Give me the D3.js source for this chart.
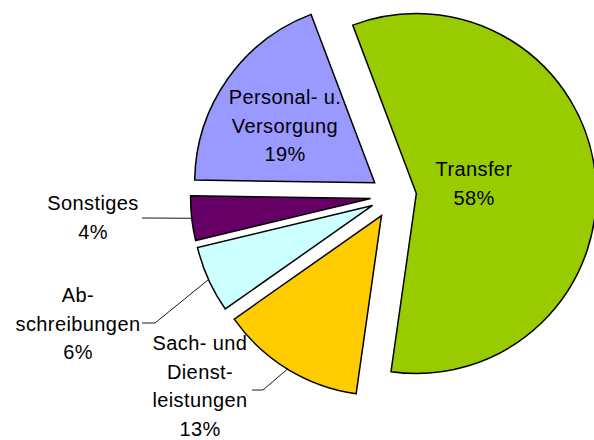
<!DOCTYPE html>
<html><head><meta charset="utf-8">
<script src="https://cdn.jsdelivr.net/npm/d3@7"></script>
<style>body{margin:0;background:#fff}</style>
</head><body><svg id="chart" width="594" height="440"></svg>
<script>
// ---- data ----
const categories = ["Transfer", "Sach- und Dienstleistungen", "Abschreibungen", "Sonstiges", "Personal- u. Versorgung"];
const values = [58, 13, 6, 4, 19];
const labelLines = [
  ["Transfer", "58%"],
  ["Sach- und", "Dienst-", "leistungen", "13%"],
  ["Ab-", "schreibungen", "6%"],
  ["Sonstiges", "4%"],
  ["Personal- u.", "Versorgung", "19%"]
];
// ---- styles / layout ----
const colors = ["#99CC00", "#FFCC00", "#CCFFFF", "#660066", "#9999FF"];
const labelLayout = [
  {x: 474, y: 176, elbow: null, leader: false},
  {x: 200, y: 350, elbow: [[252, 390], [263, 390]], leader: true},
  {x: 78,  y: 302, elbow: [[142, 323], [155, 323]], leader: true},
  {x: 93,  y: 210, elbow: [[142, 218]], leader: true},
  {x: 285, y: 104, elbow: null, leader: false}
];
const cx = 393.5, cy = 196, R = 180, explode = 23, lineH = 28.7;
const startDeg = -20.7;

const svg = d3.select("#chart");
const data = categories.map((c, i) => ({cat: c, value: values[i], i}));
const pie = d3.pie().sort(null).value(d => d.value)
  .startAngle(startDeg * Math.PI / 180)
  .endAngle(startDeg * Math.PI / 180 + 2 * Math.PI);
const arcs = pie(data);
const arc = d3.arc().innerRadius(0).outerRadius(R);

function offset(a) {
  const m = (a.startAngle + a.endAngle) / 2;
  return [explode * Math.sin(m), -explode * Math.cos(m)];
}

const g = svg.append("g").attr("transform", `translate(${cx},${cy})`);
g.selectAll("path.slice").data(arcs).enter().append("path")
  .attr("class", "slice")
  .attr("transform", d => { const o = offset(d); return `translate(${o[0]},${o[1]})`; })
  .attr("d", arc)
  .attr("fill", d => colors[d.data.i])
  .attr("stroke", "#000")
  .attr("stroke-width", 1.5)
  .attr("stroke-linejoin", "miter");

// leader lines
arcs.forEach(d => {
  const L = labelLayout[d.data.i];
  if (!L.leader) return;
  const m = (d.startAngle + d.endAngle) / 2;
  const o = offset(d);
  const px = cx + o[0] + R * Math.sin(m);
  const py = cy + o[1] - R * Math.cos(m);
  const pts = L.elbow.concat([[px, py]]);
  svg.append("path")
    .attr("d", d3.line()(pts))
    .attr("fill", "none")
    .attr("stroke", "#000")
    .attr("stroke-width", 0.9);
});

// labels
arcs.forEach(d => {
  const L = labelLayout[d.data.i];
  const t = svg.append("text")
    .attr("x", L.x).attr("y", L.y)
    .attr("text-anchor", "middle")
    .attr("font-family", "'Liberation Sans', Arial, sans-serif")
    .attr("font-size", 20)
    .attr("letter-spacing", "0.4px")
    .attr("fill", "#000");
  labelLines[d.data.i].forEach((s, k) => {
    t.append("tspan").attr("x", L.x).attr("y", L.y + k * lineH).text(s);
  });
});
</script>
</body></html>
